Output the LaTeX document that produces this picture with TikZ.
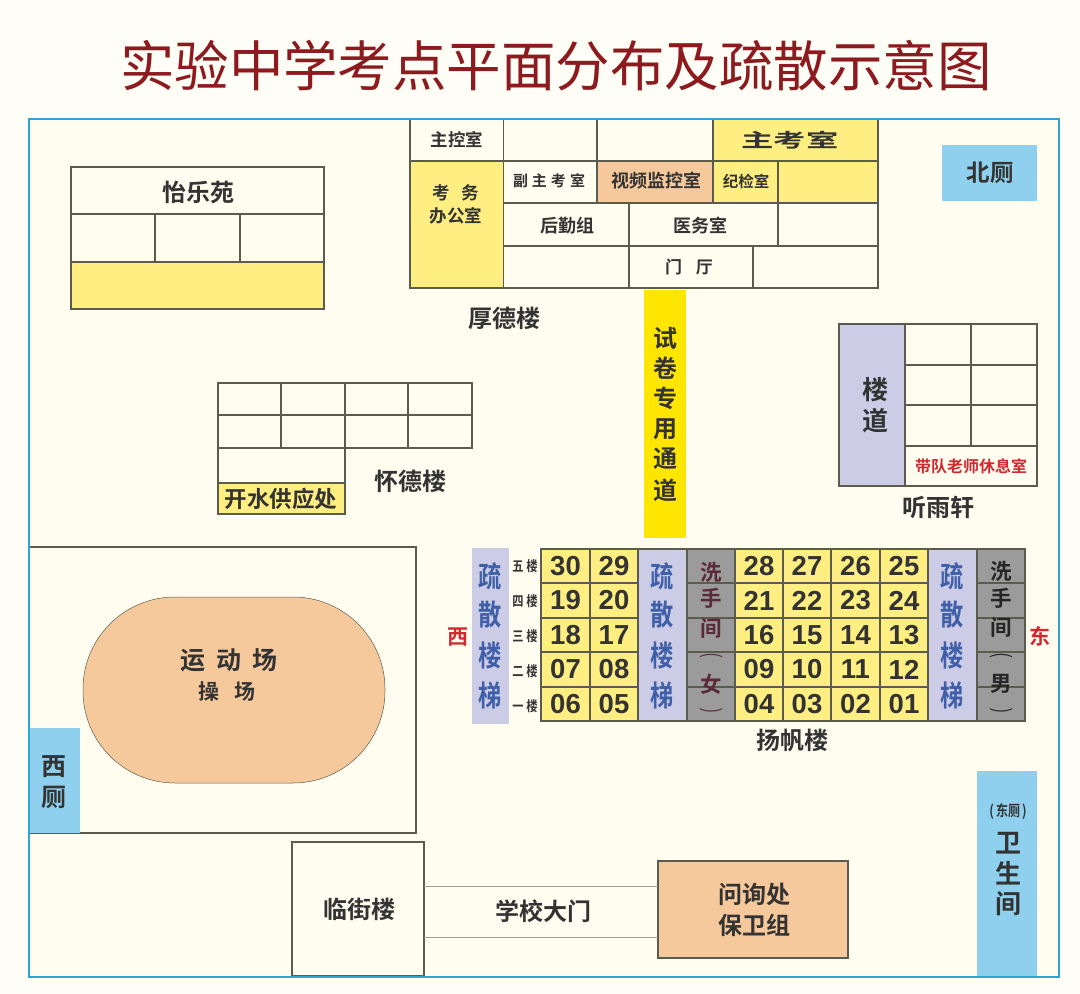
\documentclass[tikz,border=0pt]{standalone}
\usepackage{fontspec}
\newfontfamily\cjk{Noto Sans CJK SC}[BoldFont={Noto Sans CJK SC Bold}]
\newfontfamily\cjkn{Noto Sans CJK SC}[BoldFont={Noto Sans CJK SC Bold},FakeStretch=0.8]
\newfontfamily\numf{Liberation Sans}
\definecolor{pagebg}{HTML}{FFFEF6}
\definecolor{planbg}{HTML}{FFFDEF}
\definecolor{framec}{HTML}{2FA7D6}
\definecolor{wallc}{HTML}{5C5C4E}
\definecolor{inkc}{HTML}{333333}
\definecolor{yellowc}{HTML}{FFEE82}
\definecolor{peachc}{HTML}{F6C99C}
\definecolor{lavc}{HTML}{CCCCE6}
\definecolor{greyc}{HTML}{9B9B9B}
\definecolor{bluec}{HTML}{8ED0EE}
\definecolor{goldc}{HTML}{FFE600}
\definecolor{stairc}{HTML}{3F5FA8}
\definecolor{redc}{HTML}{D2282E}
\definecolor{titlec}{HTML}{8C1A1E}
\definecolor{femc}{HTML}{5A2A3A}
\tikzset{
  wall/.style={draw=wallc,line width=1.05pt},
  roomnode/.style={wall,inner sep=0pt,outer sep=0pt,anchor=north west,align=center,text=inkc},
  lbl/.style={inner sep=0pt,text=inkc,align=center},
  fy/.style={fill=yellowc},
  fp/.style={fill=peachc},
  fl/.style={fill=lavc,draw=none},
  fg/.style={fill=greyc},
  fb/.style={fill=bluec,draw=none},
}
\newcommand{\fz}[1]{\fontsize{#1}{#1}\selectfont\cjk\bfseries}
\newcommand{\fzr}[1]{\fontsize{#1}{#1}\selectfont\cjk}
\newcommand{\fzn}[1]{\fontsize{#1}{#1}\selectfont\cjkn\bfseries}
\newcommand{\room}[6][]{%
  \pgfmathsetmacro{\rw}{#5-#3}\pgfmathsetmacro{\rh}{#6-#4}%
  \node[roomnode,minimum width=\rw pt,minimum height=\rh pt,#1] (#2) at (#3,#4) {};}
\newcommand{\numrow}[8]{%
  \room[fy]{n#3}{541}{#1}{590}{#2}%
  \room[fy]{n#4}{590}{#1}{638}{#2}%
  \room[fy]{n#5}{735}{#1}{783}{#2}%
  \room[fy]{n#6}{783}{#1}{831}{#2}%
  \room[fy]{n#7}{831}{#1}{880}{#2}%
  \room[fy]{n#8}{880}{#1}{928}{#2}%
  \foreach \q in {#3,#4,#5,#6,#7,#8}{\node[lbl,font=\fontsize{27.5}{27.5}\selectfont\numf\bfseries] at (n\q.center) {\q};}}
\begin{document}
\begin{tikzpicture}[x=1pt,y=-1pt]
\useasboundingbox (0,0) rectangle (1080,994);
\fill[pagebg] (0,0) rectangle (1080,994);
\fill[planbg] (29,119) rectangle (1059,977);
\node[lbl,text=titlec,font=\fzr{54.5}] (title) at (556,66) {实验中学考点平面分布及疏散示意图};

% Houde building
\room{a1}{410}{119}{503.5}{161}
\room{a2}{503.5}{119}{597}{161}
\room{a3}{597}{119}{713}{161}
\room[fy]{a4}{713}{119}{878}{161}
\room[fy]{a5}{410}{161}{503.5}{288}
\room{a6}{503.5}{161}{597}{203}
\room[fp]{a7}{597}{161}{713}{203}
\room[fy]{a8}{713}{161}{778}{203}
\room[fy]{a9}{778}{161}{878}{203}
\room{a10}{503.5}{203}{629}{246}
\room{a11}{629}{203}{778}{246}
\room{a12}{778}{203}{878}{246}
\room{a13}{503.5}{246}{629}{288}
\room{a14}{629}{246}{753}{288}
\room{a15}{753}{246}{878}{288}
\node[lbl,font=\fz{17.5}] (l1) at (a1) {主控室};
\node[lbl,font=\fz{19}] (l2) at (790,140) {\scalebox{1.7}[1]{主考室}};
\node[lbl,font=\fz{17.5}] (l3) at (456,193) {考\hspace{12pt}务};
\node[lbl,font=\fz{17.5}] (l4) at (456,216) {办公室};
\node[lbl,font=\fz{15}] (l5) at (549,181) {副\hspace{4pt}主\hspace{4pt}考\hspace{4pt}室};
\node[lbl,font=\fz{18}] (l6) at (656,181) {视频监控室};
\node[lbl,font=\fz{15.5}] (l7) at (746,181) {纪检室};
\node[lbl,font=\fz{18}] (l8) at (567,226) {后勤组};
\node[lbl,font=\fz{18}] (l9) at (700,226) {医务室};
\node[lbl,font=\fz{17}] (l10) at (689,267) {门\hspace{14pt}厅};
\node[lbl,font=\fz{24}] (l11) at (504,318) {厚德楼};

% exam channel
\room[fill=goldc,draw=none]{chan}{644}{290}{686}{538}
\foreach \c/\y [count=\i] in {试/338,卷/368,专/398,用/429,通/459,道/490}
  \node[lbl,font=\fz{24}] (ch\i) at (665,\y) {\c};

% Yile
\room{y1}{71}{167}{324}{214}
\room{y2}{71}{214}{155}{262}
\room{y3}{155}{214}{240}{262}
\room{y4}{240}{214}{324}{262}
\room[fy]{y5}{71}{262}{324}{309}
\node[lbl,font=\fz{24}] (yl) at (198,193) {怡乐苑};

% Huaide
\foreach \xa/\xb [count=\i] in {218/281,281/345,345/408,408/472}{
  \room{h\i}{\xa}{383}{\xb}{415}
  \room{hh\i}{\xa}{415}{\xb}{448}
}
\room{h5}{218}{448}{345}{483}
\room[fy]{h6}{218}{483}{345}{514}
\node[lbl,font=\fz{22.5}] (hl1) at (281,499) {开水供应处};
\node[lbl,font=\fz{24}] (hl2) at (410,481) {怀德楼};

% Tingyu
\room[fill=lavc]{t0}{839}{324}{905}{486}
\room{t1}{905}{324}{971}{365}
\room{t2}{971}{324}{1037}{365}
\room{t3}{905}{365}{971}{405}
\room{t4}{971}{365}{1037}{405}
\room{t5}{905}{405}{971}{446}
\room{t6}{971}{405}{1037}{446}
\room{t7}{905}{446}{1037}{486}
\node[lbl,font=\fz{26}] (tl1) at (875,390) {楼};
\node[lbl,font=\fz{26}] (tl2) at (875,421) {道};
\node[lbl,font=\fz{16},text=redc] (tl3) at (971,466) {带队老师休息室};
\node[lbl,font=\fz{24}] (tl4) at (938,507) {听雨轩};

% North toilet
\room[fb]{nt}{942}{145}{1037}{201}
\node[lbl,font=\fz{23.5}] (ntl) at (990,173) {北厕};

% Playground
\room{pg}{29}{547}{416}{833}
\node[fill=peachc,draw=wallc,line width=0.5pt,rounded corners=92pt,minimum width=302pt,minimum height=186pt,inner sep=0pt,outer sep=0pt] (oval) at (234,690) {};
\node[lbl,font=\fz{25}] (o1) at (229,660) {运\hspace{11pt}动\hspace{11pt}场};
\node[lbl,font=\fz{21}] (o2) at (227,692) {操\hspace{16pt}场};
\room[fb]{wt}{29}{728}{80}{833}
\node[lbl,font=\fz{25}] (wt1) at (54,767) {西};
\node[lbl,font=\fz{25}] (wt2) at (54,797) {厕};

% Yangfan
\room[fl]{s1}{472}{548}{509}{724}
\room[fill=lavc]{s2}{638}{549}{687}{721}
\room[fill=lavc]{s3}{928}{549}{977}{721}
\foreach \ya/\yb [count=\i] in {549/583,583/618,618/652,652/687,687/721}{
  \room[fg]{wf\i}{687}{\ya}{735}{\yb}
  \room[fg]{wm\i}{977}{\ya}{1025}{\yb}
}
\numrow{549}{583}{30}{29}{28}{27}{26}{25}
\numrow{583}{618}{19}{20}{21}{22}{23}{24}
\numrow{618}{652}{18}{17}{16}{15}{14}{13}
\numrow{652}{687}{07}{08}{09}{10}{11}{12}
\numrow{687}{721}{06}{05}{04}{03}{02}{01}
\foreach \x/\n in {490/a,662/b,952/c}
  \foreach \c/\y [count=\i] in {疏/576,散/615,楼/655,梯/695}
    \node[lbl,text=stairc,font=\fzn{29}] (st\n\i) at (\x,\y) {\c};
\foreach \c/\y [count=\i] in {洗/572,手/598,间/628,女/684}
  \node[lbl,text=femc,font=\fz{21.5}] (fc\i) at (711,\y) {\c};
\foreach \c/\y [count=\i] in {洗/571,手/598,间/627,男/684}
  \node[lbl,text=black!85,font=\fz{21.5}] (mc\i) at (1001,\y) {\c};
\node[lbl,text=femc,rotate=-90,font=\fontsize{24}{24}\selectfont\numf] (fo) at (711,656) {\scalebox{.55}[1]{(}};
\node[lbl,text=femc,rotate=-90,font=\fontsize{24}{24}\selectfont\numf] (fd) at (711,711) {\scalebox{.55}[1]{)}};
\node[lbl,text=black!85,rotate=-90,font=\fontsize{24}{24}\selectfont\numf] (mo) at (1001,656) {\scalebox{.55}[1]{(}};
\node[lbl,text=black!85,rotate=-90,font=\fontsize{24}{24}\selectfont\numf] (md) at (1001,711) {\scalebox{.55}[1]{)}};
\foreach \c/\y [count=\i] in {五/566,四/601,三/636,二/671,一/706}
  \node[lbl,font=\fzn{14}] (fl\i) at (525,\y) {\c\hspace{3pt}楼};
\node[lbl,text=redc,font=\fz{21}] (west) at (458,637) {西};
\node[lbl,text=redc,font=\fz{21}] (east) at (1040,636) {东};
\node[lbl,font=\fz{24}] (yf) at (792,741) {扬帆楼};

% East toilet
\room[fb]{et}{977}{771}{1037}{977}
\node[lbl,font=\fzn{15}] (et0) at (1008,812) {(\hspace{2pt}东厕\hspace{2pt})};
\node[lbl,font=\fz{26}] (et1) at (1008,843) {卫};
\node[lbl,font=\fz{26}] (et2) at (1008,873) {生};
\node[lbl,font=\fz{26}] (et3) at (1008,904) {间};

% Gate
\room{lj}{292}{842}{424}{976}
\room[fp]{wx}{658}{861}{848}{958}
\draw[wallc!60,line width=1pt] (lj.east |- 0,886) -- (wx.west |- 0,886);
\draw[wallc!60,line width=1pt] (lj.east |- 0,937) -- (wx.west |- 0,937);
\node[lbl,font=\fz{24}] (ljl) at (359,909) {临街楼};
\node[lbl,font=\fz{24}] (gate) at (543,911) {学校大门};
\node[lbl,font=\fz{24}] (wx1) at (754,894) {问询处};
\node[lbl,font=\fz{24}] (wx2) at (754,925) {保卫组};

% outer frame on top
\draw[framec,line width=2.6pt] (29,119) rectangle (1059,977);
\end{tikzpicture}
\end{document}
